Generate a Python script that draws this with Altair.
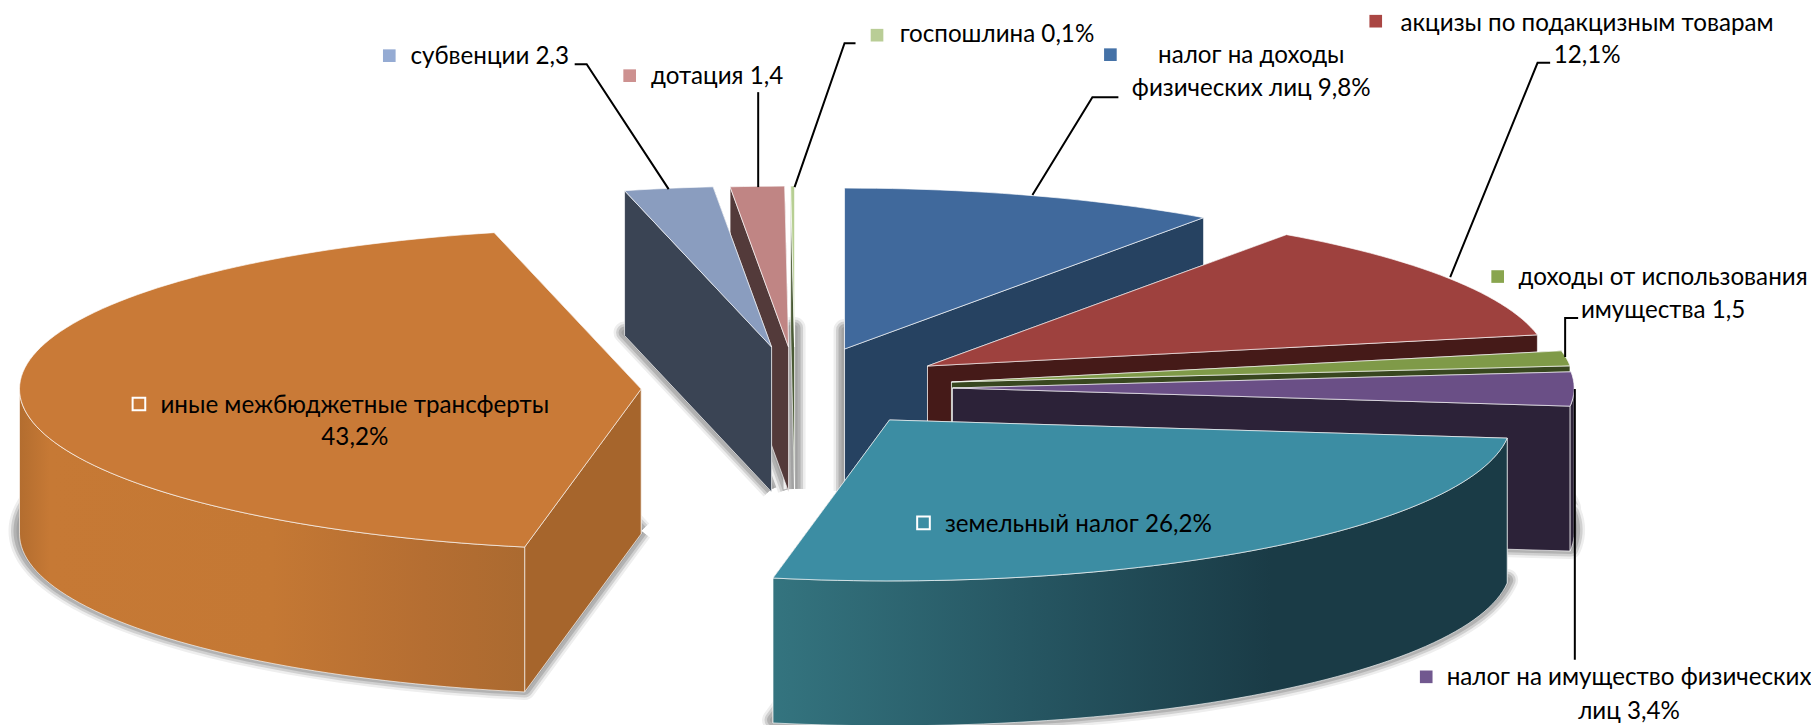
import math
import altair as alt
import pandas as pd

# ---- values ----
names = ["налог на доходы физических лиц", "акцизы по подакцизным товарам",
         "доходы от использования имущества", "налог на имущество физических лиц",
         "земельный налог", "иные межбюджетные трансферты",
         "субвенции", "дотация", "госпошлина"]
shares = [9.8, 12.1, 1.5, 3.4, 26.2, 43.2, 2.3, 1.4, 0.1]
label_lines = [
    ["налог на доходы", "физических лиц 9,8%"],
    ["акцизы по подакцизным товарам", "12,1%"],
    ["доходы от использования", "имущества 1,5"],
    ["налог на имущество физических", "лиц 3,4%"],
    ["земельный налог 26,2%"],
    ["иные межбюджетные трансферты", "43,2%"],
    ["субвенции 2,3"],
    ["дотация 1,4"],
    ["госпошлина 0,1%"],
]

# ---- layout and style, in picture pixels ----
RX, RY, DEPTH = 622, 161, 145
apex = [(845, 349), (928, 366), (952, 382), (953, 388), (890, 420),
        (641.5, 389), (772, 347), (789, 347), (795, 347)]
top_col = ["#40699C", "#9E413E", "#7F9A48", "#6A4F86", "#3C8DA3",
           "#C97A37", "#8A9DBF", "#C08584", "#B7CF93"]
wall_col = ["#264261", "#451A18", "#38471F", "#2C2238", "#1A3B46",
            "#A6652C", "#3A4454", "#533A3A", "#4A5A35"]
key_col = ["#4572A7", "#AA4643", "#89A54E", "#71588F", "#3C8DA3",
           "#C97A37", "#95ABD3", "#CD9190", "#B9CD96"]
rim_grad = {
    4: [(0, "#34747F"), (0.35, "#265662"), (0.68, "#1A3B46"), (1, "#1A3B46")],
    5: [(0, "#B36D2F"), (0.06, "#C67935"), (0.5, "#C47834"), (0.8, "#B56E32"), (1, "#AB6A30")],
}
key_pos = [(1111, 54.5), (1376.5, 21), (1498.5, 276.5), (1427, 677), (924, 523),
           (139, 404), (389.5, 55.5), (630, 75.5), (877.5, 35)]
hollow = {4, 5}
text_pos = [(1252, [56, 89]), (1588, [24, 56]), (1664, [278, 311]), (1630, [678, 712]),
            (1079, [525]), (355, [406, 438]), (490, [57]), (717.5, [77]), (997.5, [35])]
leaders = [
    [(1119, 97), (1093, 97), (1033, 195)],
    [(1551, 62.7), (1538.4, 62.7), (1451, 277)],
    [(1579, 318), (1566, 318), (1566, 357)],
    [(1575.7, 389), (1575.7, 660)],
    [(575, 64), (587, 64), (669, 189)],
    [(758.6, 92), (758.6, 187)],
    [(856, 43), (845, 43), (795, 187)],
]
FONT = "Lato"
FONT_SIZE = 24.2
W, H = 1804, 717
xs = alt.Scale(domain=[8, 8 + W], nice=False, zero=False)
ys = alt.Scale(domain=[8 + H, 8], nice=False, zero=False)

# angles from the shares
angles = []
c = 0.0
for s in shares:
    angles.append((c * 3.6, (c + s) * 3.6))
    c += s


def rim_pt(i, deg, dy=0):
    a = math.radians(deg)
    return (apex[i][0] + RX * math.sin(a), apex[i][1] - RY * math.cos(a) + dy)


def arc(i, a0, a1, dy=0):
    n = max(2, int(abs(a1 - a0) / 1.5) + 2)
    return [rim_pt(i, a0 + (a1 - a0) * k / (n - 1), dy) for k in range(n)]


def poly(points, **mark):
    pts = list(points) + [points[0]]
    df = pd.DataFrame({"px": [p[0] for p in pts], "py": [p[1] for p in pts], "i": range(len(pts))})
    return alt.Chart(df).mark_line(strokeJoin="round", **mark).encode(
        x=alt.X("px:Q", scale=xs, axis=None),
        y=alt.Y("py:Q", scale=ys, axis=None),
        order=alt.Order("i:Q"),
    )


layers = []
# soft shadows under the base of each slice
ramp = [(22, "#eeeeee"), (17, "#d0d0d0"), (12, "#b2b2b2"), (6, "#a2a2a2")]
for i in range(len(shares)):
    a0, a1 = angles[i]
    base = [(apex[i][0], apex[i][1] + DEPTH - 3)] + arc(i, a0, a1, DEPTH - 3)
    for w, col in ramp:
        layers.append(poly(base, fill=col, stroke=col, strokeWidth=w))

edge = dict(stroke="#ffffff", strokeWidth=1, strokeOpacity=0.65)
paint_order = [8, 7, 6, 0, 1, 2, 3, 4, 5]
for i in paint_order:
    a0, a1 = angles[i]
    ax, ay = apex[i]
    wall_order = (a1, a0) if a0 >= 180 else (a0, a1)
    for deg in wall_order:
        rx_, ry_ = rim_pt(i, deg)
        layers.append(poly([(ax, ay), (rx_, ry_), (rx_, ry_ + DEPTH), (ax, ay + DEPTH)],
                           fill=wall_col[i], **edge))
    v0, v1 = max(a0, 90), min(a1, 270)
    if v1 > v0:
        up = arc(i, v0, v1)
        down = arc(i, v1, v0, DEPTH)
        if i in rim_grad:
            fill = alt.Gradient(gradient="linear", x1=0, x2=1, y1=0, y2=0,
                                stops=[alt.GradientStop(offset=o, color=k) for o, k in rim_grad[i]])
        else:
            fill = wall_col[i]
        layers.append(poly(up + down, fill=fill, **edge))
    layers.append(poly([(ax, ay)] + arc(i, a0, a1), fill=top_col[i], **edge))

# leader lines
for ln in leaders:
    df = pd.DataFrame({"px": [p[0] for p in ln], "py": [p[1] for p in ln], "i": range(len(ln))})
    layers.append(alt.Chart(df).mark_line(color="#000000", strokeWidth=2).encode(
        x=alt.X("px:Q", scale=xs, axis=None),
        y=alt.Y("py:Q", scale=ys, axis=None),
        order=alt.Order("i:Q")))

# legend keys
rows = [{"name": names[i], "px": key_pos[i][0], "py": key_pos[i][1],
         "fill": key_col[i], "stroke": "#ffffff" if i in hollow else key_col[i],
         "sw": 2 if i in hollow else 0} for i in range(len(names))]
layers.append(alt.Chart(pd.DataFrame(rows)).mark_square(size=160, opacity=1).encode(
    x=alt.X("px:Q", scale=xs, axis=None),
    y=alt.Y("py:Q", scale=ys, axis=None),
    fill=alt.Fill("fill:N", scale=None),
    stroke=alt.Stroke("stroke:N", scale=None),
    strokeWidth=alt.StrokeWidth("sw:Q", scale=None)))

# text
rows = []
for i, lines in enumerate(label_lines):
    for t, yy in zip(lines, text_pos[i][1]):
        rows.append({"t": t, "px": text_pos[i][0], "py": yy})
layers.append(alt.Chart(pd.DataFrame(rows)).mark_text(
    font=FONT, fontSize=FONT_SIZE, color="#000000", align="center", baseline="middle").encode(
    x=alt.X("px:Q", scale=xs, axis=None),
    y=alt.Y("py:Q", scale=ys, axis=None),
    text="t:N"))

chart = alt.layer(*layers).properties(
    width=W, height=H, padding=0,
    autosize=alt.AutoSizeParams(type="none"),
).configure_view(stroke=None)

chart.save("out.html", embed_options={"renderer": "svg", "actions": False})
